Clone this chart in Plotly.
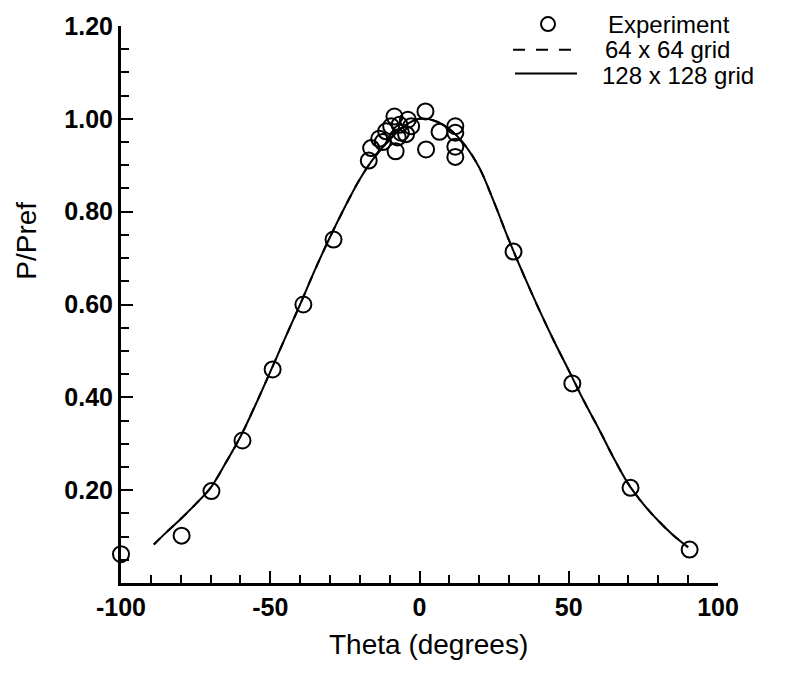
import plotly.graph_objects as go

# Measured surface pressure, P/Pref versus angle
exp_theta = [-100, -79.7, -69.7, -59.3, -49.2, -38.9, -28.8,
             -17.0, -16.2, -13.5, -12.3, -11.2, -9.5, -8.4, -8.0, -7.3, -6.7, -6.2,
             -4.5, -3.9, -2.8, 2.0, 2.2, 6.7, 12.0, 12.0, 12.0, 12.0,
             31.5, 51.2, 70.7, 90.5]
exp_p = [0.062, 0.102, 0.198, 0.307, 0.460, 0.600, 0.740,
         0.910, 0.937, 0.957, 0.950, 0.973, 0.984, 1.005, 0.930, 0.960, 0.987, 0.970,
         0.967, 0.998, 0.984, 1.016, 0.934, 0.972, 0.984, 0.970, 0.940, 0.918,
         0.714, 0.430, 0.205, 0.072]

# Computed distributions (the two grids overlap)
grid64_theta = [-89, -85, -80, -75, -70, -65, -60, -55, -50, -45, -40, -35, -30, -25, -20,
                -15, -10, -5, 0, 5, 10, 15, 20, 25, 30, 35, 40, 45, 50, 55, 60, 65, 70,
                75, 80, 85, 90]
grid64_p = [0.083, 0.108, 0.138, 0.170, 0.205, 0.258, 0.315, 0.383, 0.455, 0.528, 0.600,
            0.675, 0.745, 0.810, 0.870, 0.918, 0.955, 0.985, 1.000, 0.996, 0.978, 0.945,
            0.895, 0.820, 0.738, 0.662, 0.590, 0.522, 0.458, 0.393, 0.333, 0.270, 0.213,
            0.170, 0.134, 0.103, 0.077]
grid128_theta = [-89, -85, -80, -75, -70, -65, -60, -55, -50, -45, -40, -35, -30, -25, -20,
                 -15, -10, -5, 0, 5, 10, 15, 20, 25, 30, 35, 40, 45, 50, 55, 60, 65, 70,
                 75, 80, 85, 90]
grid128_p = [0.083, 0.108, 0.138, 0.170, 0.205, 0.258, 0.315, 0.383, 0.455, 0.528, 0.600,
             0.675, 0.745, 0.810, 0.870, 0.918, 0.955, 0.985, 1.000, 0.996, 0.978, 0.945,
             0.895, 0.820, 0.738, 0.662, 0.590, 0.522, 0.458, 0.393, 0.333, 0.270, 0.213,
             0.170, 0.134, 0.103, 0.077]

x_ticks = [-100, -50, 0, 50, 100]
x_ticktext = ["-100", "-50", "0", "50", "100"]
y_ticks = [0.2, 0.4, 0.6, 0.8, 1.0, 1.2]
y_ticktext = ["0.20", "0.40", "0.60", "0.80", "1.00", "1.20"]
legend_labels = ["Experiment", "64 x 64 grid", "128 x 128 grid"]

FONT = "Liberation Sans, Arial, Helvetica, sans-serif"
W, H = 811, 681
L, R, T, B = 121, 93, 20, 98
pw, ph = W - L - R, H - T - B


def px(xp):
    return (xp - L) / pw


def py(yp):
    return (H - B - yp) / ph


fig = go.Figure()
fig.add_trace(go.Scatter(x=grid128_theta, y=grid128_p, mode="lines",
                         line=dict(color="black", width=2, shape="spline"),
                         name=legend_labels[2], showlegend=False))
fig.add_trace(go.Scatter(x=grid64_theta, y=grid64_p, mode="lines",
                         line=dict(color="black", width=2, dash="dash", shape="spline"),
                         name=legend_labels[1], showlegend=False))
fig.add_trace(go.Scatter(x=exp_theta, y=exp_p, mode="markers",
                         marker=dict(symbol="circle-open", size=16, color="black",
                                     line=dict(width=2, color="black")),
                         name=legend_labels[0], showlegend=False, cliponaxis=False))

# Compact key in the upper right
key_rows = [18, 44, 70]
shapes = [
    dict(type="circle", xref="paper", yref="paper",
         x0=px(541), x1=px(555), y0=py(key_rows[0] - 7), y1=py(key_rows[0] + 7),
         line=dict(color="black", width=2)),
    dict(type="line", xref="paper", yref="paper",
         x0=px(513), x1=px(572), y0=py(key_rows[1]), y1=py(key_rows[1]),
         line=dict(color="black", width=2, dash="12px,11px")),
    dict(type="line", xref="paper", yref="paper",
         x0=px(515), x1=px(577), y0=py(key_rows[2] - 2), y1=py(key_rows[2] - 2),
         line=dict(color="black", width=2)),
]
annotations = [
    dict(text=legend_labels[i], x=px(xs), y=py(key_rows[i]), xref="paper", yref="paper",
         xanchor="left", yanchor="middle", showarrow=False,
         font=dict(family=FONT, size=24, color="black"))
    for i, xs in enumerate([606, 603, 600])
] + [
    dict(text="Theta (degrees)", x=px(428), y=py(645), xref="paper", yref="paper",
         xanchor="center", yanchor="middle", showarrow=False,
         font=dict(family=FONT, size=28, color="black")),
    dict(text="P/Pref", x=px(27), y=py(237), xref="paper", yref="paper",
         xanchor="center", yanchor="middle", showarrow=False, textangle=-90,
         font=dict(family=FONT, size=28, color="black")),
]

fig.update_layout(
    width=W, height=H,
    margin=dict(l=L, r=R, t=T, b=B),
    paper_bgcolor="white", plot_bgcolor="white",
    shapes=shapes, annotations=annotations,
    showlegend=False,
)
fig.update_xaxes(range=[-100, 100], tickvals=x_ticks, ticktext=x_ticktext, ticks="inside",
                 ticklen=12, tickwidth=2, tickcolor="black", showline=True, linewidth=3,
                 linecolor="black", showgrid=False, zeroline=False,
                 tickfont=dict(family=FONT, size=25, color="black", weight="bold"),
                 minor=dict(dtick=10, ticks="inside", ticklen=8, tickwidth=2,
                            tickcolor="black", showgrid=False))
fig.update_yaxes(range=[0, 1.2], tickvals=y_ticks, ticktext=y_ticktext, ticks="inside",
                 ticklen=12, tickwidth=2, tickcolor="black", showline=True, linewidth=3,
                 linecolor="black", showgrid=False, zeroline=False,
                 tickfont=dict(family=FONT, size=25, color="black", weight="bold"),
                 minor=dict(dtick=0.05, tick0=0, ticks="inside", ticklen=8, tickwidth=2,
                            tickcolor="black", showgrid=False))

fig.write_html("out.html")
